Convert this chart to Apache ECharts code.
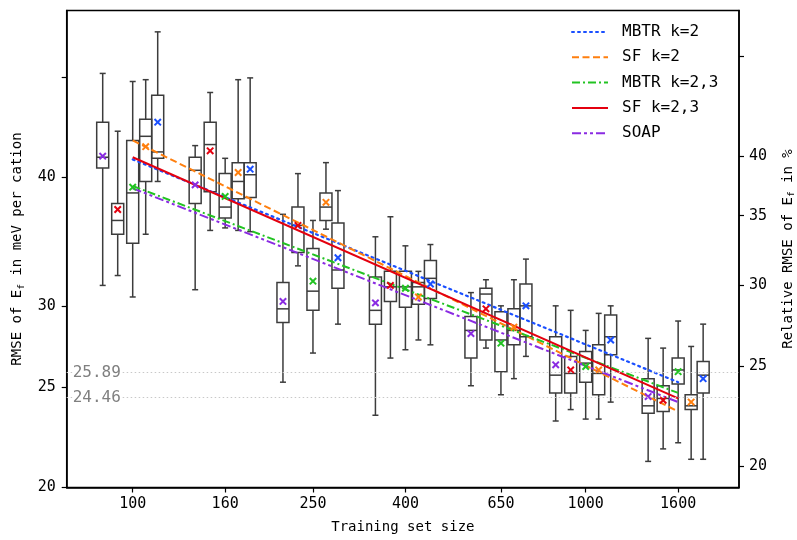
<!DOCTYPE html>
<html><head><meta charset="utf-8">
<script src="https://cdn.jsdelivr.net/npm/echarts@6/dist/echarts.min.js"></script>
<style>html,body{margin:0;padding:0;background:#fff}#c{width:797px;height:540px}</style>
</head><body><div id="c"></div>
<script>
// ---------------- data ----------------
const sizes = [100, 160, 250, 400, 650, 1000, 1600];
const xTickValues = [100, 160, 250, 400, 650, 1000, 1600];
const leftTickLabels = [20, 25, 30, 40];
const leftTicks = [20, 25, 30, 40, 50];
const rightTickLabels = [20, 25, 30, 35, 40];
const rightTicks = [20, 25, 30, 35, 40, 50];
const refLines = [25.89, 24.46];

const methods = ['MBTR k=2', 'SF k=2', 'MBTR k=2,3', 'SF k=2,3', 'SOAP'];

// box stats per size: [low whisker, Q1, median, Q3, high whisker]
const boxMBTR2 = [[39.6,41.7,42.3,48.0,55.3],[35.4,38.2,40.2,41.3,49.9],[28.8,31.2,32.5,36.1,38.8],[27.5,30.5,31.9,33.2,34.4],[26.8,28.0,30.0,31.5,33.3],[24.2,26.9,28.0,29.4,30.0],[21.3,24.7,25.7,26.5,28.8]];
const boxSF2    = [[35.2,39.6,43.8,45.5,49.7],[35.5,38.1,39.6,41.3,49.7],[35.6,36.3,37.4,38.6,41.3],[27.8,30.1,31.3,31.6,32.4],[25.5,27.5,28.4,29.8,31.8],[23.3,24.6,25.8,27.5,29.5],[21.3,23.8,24.0,24.6,27.4]];
const boxMBTR23 = [[30.6,34.5,38.6,43.4,49.5],[35.7,36.5,37.4,40.3,41.7],[27.0,29.7,31.0,34.1,36.3],[27.2,29.9,31.3,32.4,34.3],[24.6,25.9,27.8,29.6,30.0],[23.3,25.3,26.4,27.1,28.4],[22.1,25.2,26.0,26.7,29.0]];
const boxSF23   = [[32.1,35.2,36.3,37.7,44.3],[35.5,38.7,43.0,45.2,48.3],[32.8,33.8,35.9,37.4,40.3],[26.7,30.3,31.3,32.4,36.6],[27.3,27.8,30.8,31.2,31.8],[23.8,24.7,25.8,26.8,29.7],[21.8,23.7,24.4,25.1,27.3]];
const boxSOAP   = [[31.4,40.8,41.8,45.2,50.4],[31.1,37.7,40.6,41.8,42.9],[25.3,28.9,29.8,31.6,36.8],[23.5,28.8,29.7,32.0,35.0],[25.1,26.7,28.4,29.3,30.9],[23.2,24.7,25.7,28.0,30.0],[21.2,23.6,24.0,25.5,27.9]];

const meanMBTR2  = [45.2, 40.7, 33.4, 31.5, 30.0, 27.8, 25.5];
const meanSF2    = [42.8, 40.4, 37.8, 30.6, 28.6, 26.0, 24.2];
const meanMBTR23 = [39.1, 38.3, 31.7, 31.2, 27.6, 26.2, 25.9];
const meanSF23   = [37.2, 42.4, 35.9, 31.4, 29.8, 26.0, 24.3];
const meanSOAP   = [41.9, 39.3, 30.3, 30.2, 28.2, 26.3, 24.5];

// fitted power laws, values at first and last training size
const fitX      = [100, 1600];
const fitMBTR2  = [41.6, 25.3];
const fitSF2    = [43.4, 23.7];
const fitMBTR23 = [39.2, 24.7];
const fitSF23   = [41.8, 24.4];
const fitSOAP   = [39.0, 24.2];

// relative axis: percent per meV/cation
const relFactor = 0.954;

// ---------------- style ----------------
const FONT = 'DejaVu Sans Mono';
const styles = {
  'MBTR k=2':   {color:'#1a4fff', dash:[2,4], cap:'round', width:2.2, offset:25},
  'SF k=2':     {color:'#ff7f0e', dash:[7,3.5], cap:'butt', width:2, offset:13},
  'MBTR k=2,3': {color:'#22c322', dash:[8,3,2,3], cap:'butt', width:2, offset:0},
  'SF k=2,3':   {color:'#e4000f', dash:'solid', cap:'butt', width:2, offset:-15},
  'SOAP':       {color:'#8a2be2', dash:[9,3,3,3,3,3], cap:'butt', width:2, offset:-30}
};
const boxes = {'MBTR k=2':boxMBTR2,'SF k=2':boxSF2,'MBTR k=2,3':boxMBTR23,'SF k=2,3':boxSF23,'SOAP':boxSOAP};
const means = {'MBTR k=2':meanMBTR2,'SF k=2':meanSF2,'MBTR k=2,3':meanMBTR23,'SF k=2,3':meanSF23,'SOAP':meanSOAP};
const fits  = {'MBTR k=2':fitMBTR2,'SF k=2':fitSF2,'MBTR k=2,3':fitMBTR23,'SF k=2,3':fitSF23,'SOAP':fitSOAP};

function boxRender(offset) {
  return function (params, api) {
    const s = api.value(0);
    const p = i => api.coord([s, api.value(i)]);
    const cx = p(1)[0] + offset;
    const yl = p(1)[1], y1 = p(2)[1], ym = p(3)[1], y3 = p(4)[1], yh = p(5)[1];
    const hw = 6, cw = 3;
    const ls = {stroke:'#3c3c3c', lineWidth:1.5, fill:null};
    return {type:'group', children:[
      {type:'line', shape:{x1:cx,y1:yh,x2:cx,y2:y3}, style:ls},
      {type:'line', shape:{x1:cx,y1:y1,x2:cx,y2:yl}, style:ls},
      {type:'line', shape:{x1:cx-cw,y1:yh,x2:cx+cw,y2:yh}, style:ls},
      {type:'line', shape:{x1:cx-cw,y1:yl,x2:cx+cw,y2:yl}, style:ls},
      {type:'rect', shape:{x:cx-hw,y:y3,width:2*hw,height:y1-y3}, style:ls},
      {type:'line', shape:{x1:cx-hw,y1:ym,x2:cx+hw,y2:ym}, style:ls}
    ]};
  };
}
function meanRender(offset, color) {
  return function (params, api) {
    const c = api.coord([api.value(0), api.value(1)]);
    const x = c[0] + offset, y = c[1], h = 3.2;
    const ls = {stroke:color, lineWidth:2};
    return {type:'group', children:[
      {type:'line', shape:{x1:x-h,y1:y-h,x2:x+h,y2:y+h}, style:ls},
      {type:'line', shape:{x1:x-h,y1:y+h,x2:x+h,y2:y-h}, style:ls}
    ]};
  };
}

const series = [];
methods.forEach((m, idx) => {
  const st = styles[m];
  series.push({
    type:'custom', name: m + ' box', z:2, silent:true,
    renderItem: boxRender(st.offset),
    encode:{x:0, y:[1,2,3,4,5]},
    data: sizes.map((s, i) => [s].concat(boxes[m][i])),
    markLine: idx === 0 ? {
      silent:true, symbol:'none', animation:false,
      lineStyle:{type:[1.5,2.5], color:'#c8c8c8', width:1},
      label:{show:true, position:'insideStartTop', distance:[6,-9], color:'#808080',
             fontFamily:FONT, fontSize:16, backgroundColor:'#fff', padding:[0,1,0,0],
             formatter: p => p.value.toFixed(2)},
      data: refLines.map(v => ({yAxis:v}))
    } : undefined
  });
});
methods.forEach(m => {
  const st = styles[m];
  series.push({
    type:'line', name:m, z:3, silent:true, symbol:'none', animation:false,
    lineStyle:{color:st.color, width:st.width, type:st.dash, cap:st.cap},
    itemStyle:{color:st.color},
    data: fitX.map((x, i) => [x, fits[m][i]])
  });
});
methods.forEach(m => {
  const st = styles[m];
  series.push({
    type:'custom', name: m + ' mean', z:4, silent:true,
    renderItem: meanRender(st.offset, st.color),
    encode:{x:0, y:1},
    data: sizes.map((s, i) => [s, means[m][i]])
  });
});

const tickText = {fontFamily:FONT, fontSize:15, color:'#000'};
const titleText = {fontFamily:FONT, fontSize:14, color:'#000'};
const chart = echarts.init(document.getElementById('c'), null, {renderer:'canvas'});
chart.setOption({
  animation:false,
  backgroundColor:'#fff',
  grid:{left:66.7, right:58, top:10.5, bottom:52.5, outerBoundsMode:'none', containLabel:false,
        show:true, borderColor:'#000', borderWidth:1.5, backgroundColor:'transparent'},
  legend:{
    data: methods, orient:'vertical', left:571, top:24, padding:0,
    itemWidth:36, itemHeight:14, itemGap:9.3,
    itemStyle:{opacity:0},
    textStyle:{fontFamily:FONT, fontSize:16, color:'#000', padding:[0,0,0,9]},
    selectedMode:false
  },
  xAxis:{
    type:'log', logBase:10, min:71.5, max:2180,
    name:'Training set size', nameLocation:'middle', nameGap:33,
    nameTextStyle:titleText,
    axisLine:{show:true, lineStyle:{color:'#000', width:1.5}},
    axisTick:{show:true, customValues:xTickValues, length:5, lineStyle:{color:'#000', width:1.2}},
    axisLabel:{customValues:xTickValues, margin:9, formatter: v => String(Math.round(v)), ...tickText},
    splitLine:{show:false}, minorTick:{show:false}
  },
  yAxis:[{
    type:'log', logBase:10, min:20, max:58, position:'left',
    name:'RMSE of E{s|f} in meV per cation', nameLocation:'middle', nameGap:40,
    nameTextStyle:{...titleText, rich:{s:{fontFamily:FONT, fontSize:9.5, padding:[8,0,0,0]}}},
    axisLine:{show:true, lineStyle:{color:'#000', width:1.5}},
    axisTick:{show:true, customValues:leftTicks, length:5, lineStyle:{color:'#000', width:1.2}},
    axisLabel:{customValues:leftTickLabels, margin:11, formatter: v => String(Math.round(v)), ...tickText},
    splitLine:{show:false}, minorTick:{show:false}
  },{
    type:'log', logBase:10, min:20*relFactor, max:58*relFactor, position:'right',
    name:'Relative RMSE of E{s|f} in %', nameLocation:'middle', nameGap:40,
    nameRotate:90,
    nameTextStyle:{...titleText, rich:{s:{fontFamily:FONT, fontSize:9.5, padding:[8,0,0,0]}}},
    axisLine:{show:true, lineStyle:{color:'#000', width:1.5}},
    axisTick:{show:true, customValues:rightTicks, length:5, lineStyle:{color:'#000', width:1.2}},
    axisLabel:{customValues:rightTickLabels, margin:10, formatter: v => String(Math.round(v)), ...tickText},
    splitLine:{show:false}, minorTick:{show:false}
  }],
  series: series
});
</script></body></html>
